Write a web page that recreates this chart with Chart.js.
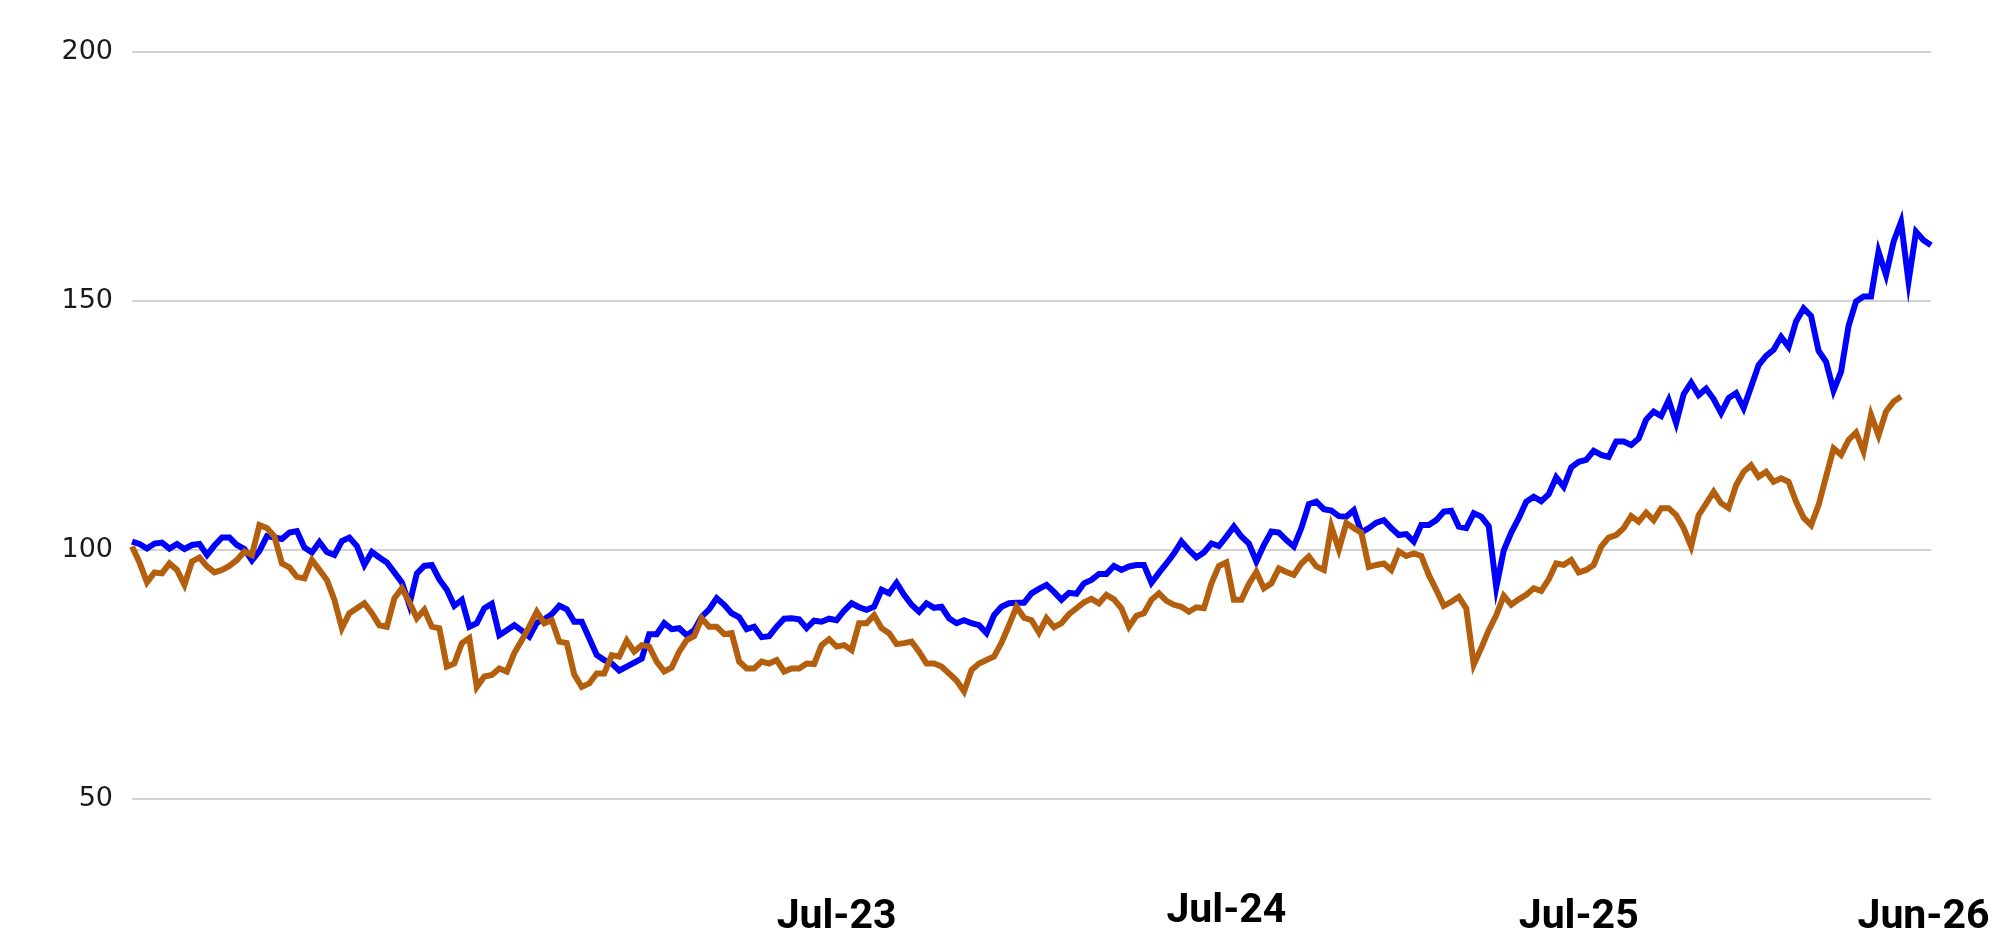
<!DOCTYPE html>
<html>
<head>
<meta charset="utf-8">
<title>Index performance</title>
<script src="https://cdn.jsdelivr.net/npm/chart.js@4.4.1/dist/chart.umd.min.js"></script>
<style>
  html, body { margin: 0; padding: 0; background: #fff; }
  #wrap { width: 2012px; height: 932px; position: relative; }
</style>
</head>
<body>
<div id="wrap"><canvas id="chart"></canvas></div>
<script>
// weekly-ish readings, rebased to 100
const seriesBlue = [
  101.7, 101.2, 100.3, 101.3, 101.5, 100.3, 101.2, 100.2, 101, 101.2,
  99, 100.9, 102.5, 102.5, 101, 100.2, 97.9, 99.8, 102.8, 102.5,
  102.2, 103.5, 103.8, 100.5, 99.5, 101.6, 99.6, 99, 101.8, 102.5,
  100.8, 97, 99.6, 98.5, 97.5, 95.5, 93.5, 89, 95.3, 96.8,
  97, 94.1, 92, 88.8, 90, 84.6, 85.3, 88.3, 89.2, 82.9,
  83.9, 84.9, 83.8, 82.6, 85.4, 86.1, 87.1, 88.8, 88.1, 85.6,
  85.6, 82.3, 78.9, 77.9, 77.2, 75.8, 76.6, 77.4, 78.2, 83.1,
  83.1, 85.3, 84.1, 84.3, 82.9, 83.9, 86.6, 88.1, 90.3, 89,
  87.3, 86.5, 84.1, 84.6, 82.5, 82.7, 84.6, 86.2, 86.3, 86.1,
  84.3, 85.8, 85.6, 86.2, 85.9, 87.8, 89.3, 88.5, 88, 88.6,
  92, 91.3, 93.4, 91, 89, 87.6, 89.3, 88.4, 88.6, 86.3,
  85.3, 85.9, 85.3, 84.9, 83.3, 86.9, 88.6, 89.3, 89.4, 89.4,
  91.3, 92.2, 93, 91.6, 90, 91.4, 91.2, 93.3, 94, 95.2,
  95.2, 96.8, 96, 96.7, 97, 97, 93.4, 95.4, 97.3, 99.3,
  101.7, 100, 98.5, 99.5, 101.3, 100.8, 102.7, 104.7, 102.7, 101.3,
  97.7, 101, 103.7, 103.5, 102, 100.7, 104.4, 109.2, 109.7, 108.2,
  107.9, 106.8, 106.7, 108, 103.5, 104.4, 105.5, 106, 104.4, 103,
  103.2, 101.7, 105, 105, 106, 107.7, 107.9, 104.7, 104.4, 107.4,
  106.7, 104.8, 92.5, 99.9, 103.5, 106.4, 109.7, 110.7, 109.8, 111.2,
  114.6, 112.7, 116.6, 117.7, 118.1, 119.9, 119.1, 118.7, 121.8, 121.8,
  121.1, 122.4, 126.2, 127.8, 126.9, 130.1, 125.5, 131.3, 133.6, 131.1,
  132.4, 130.3, 127.5, 130.5, 131.5, 128.5, 132.8, 137.1, 139, 140.2,
  142.8, 140.8, 145.9, 148.5, 147, 140, 137.8, 132, 135.8, 145,
  149.9, 150.9, 150.9, 159.9, 155.2, 161.9, 165.9, 153.9, 163.9, 162.2,
  161.2
];

const seriesOrange = [
  100.7, 97.5, 93.5, 95.5, 95.3, 97.3, 96, 93, 97.7, 98.5,
  96.7, 95.5, 96, 96.8, 98, 99.7, 99, 105, 104.4, 102.7,
  97.3, 96.5, 94.6, 94.3, 98, 96, 94, 90, 84.3, 87.3,
  88.3, 89.3, 87.3, 84.9, 84.6, 90.3, 92.3, 89.6, 86.3, 88,
  84.6, 84.3, 76.6, 77.2, 81.3, 82.3, 72.5, 74.6, 74.9, 76.2,
  75.6, 79.3, 81.9, 84.6, 87.6, 85.3, 85.9, 81.6, 81.3, 75,
  72.5, 73.2, 75.2, 75.2, 78.9, 78.6, 81.8, 79.6, 80.9, 80.6,
  77.6, 75.6, 76.4, 79.6, 81.9, 82.7, 86.3, 84.6, 84.6, 83.1,
  83.3, 77.6, 76.2, 76.2, 77.6, 77.2, 77.9, 75.6, 76.2, 76.2,
  77.2, 77.1, 80.9, 82.1, 80.6, 80.9, 79.9, 85.3, 85.3, 86.9,
  84.3, 83.3, 81.1, 81.3, 81.6, 79.6, 77.2, 77.2, 76.6, 75.2,
  73.8, 71.6, 75.9, 77.2, 77.9, 78.6, 81.4, 84.9, 88.6, 86.4,
  85.9, 83.4, 86.3, 84.5, 85.3, 87.1, 88.3, 89.5, 90.2, 89.3,
  91, 90.1, 88.3, 84.6, 86.8, 87.3, 90, 91.3, 89.8, 89,
  88.6, 87.6, 88.5, 88.3, 93.3, 96.8, 97.5, 90, 90, 93.2,
  95.6, 92.3, 93.3, 96.3, 95.6, 95, 97.3, 98.7, 96.7, 96,
  104.7, 100.1, 105.4, 104.4, 103.5, 96.6, 97, 97.3, 96, 99.7,
  98.8, 99.3, 98.8, 95, 92, 88.8, 89.6, 90.6, 88.3, 77,
  80.3, 83.9, 86.9, 90.8, 89, 90.1, 91, 92.3, 91.8, 94.1,
  97.3, 97, 98, 95.5, 96, 97, 100.7, 102.5, 103, 104.4,
  106.8, 105.7, 107.5, 106, 108.4, 108.4, 107, 104.4, 100.7, 107,
  109.3, 111.7, 109.4, 108.4, 113, 115.7, 117, 114.7, 115.7, 113.7,
  114.4, 113.7, 109.7, 106.5, 105, 109, 114.7, 120.4, 119.1, 122.1,
  123.6, 119.8, 127.1, 123, 127.8, 129.8, 130.8, null, null, null,
  null
];

const tickLabels = ['Jul-23', 'Jul-24', 'Jul-25', 'Jun-26'];
const tickAt = [94, 146, 193, 239]; // observation each date label sits under

const yTicks = [50, 100, 150, 200];

const categories = seriesBlue.map((v, i) => {
  const k = tickAt.indexOf(i);
  return k >= 0 ? tickLabels[k] : '';
});

new Chart(document.getElementById('chart'), {
  type: 'line',
  data: {
    labels: categories,
    datasets: [{
      data: seriesOrange,
      borderColor: '#b45f0d',
      borderWidth: 6,
      pointRadius: 0,
      tension: 0,
      order: 0
    }, {
      data: seriesBlue,
      borderColor: '#0000ff',
      borderWidth: 6,
      pointRadius: 0,
      tension: 0,
      order: 1
    }]
  },
  options: {
    responsive: true,
    maintainAspectRatio: false,
    animation: false,
    layout: {
      padding: { left: 62, right: 81, top: 52, bottom: 0 }
    },
    plugins: {
      legend: { display: false },
      tooltip: { enabled: false }
    },
    scales: {
      x: {
        // big tick padding would otherwise also eat into the sides
        afterFit: s => { s.height = 133; s.paddingLeft = 0; s.paddingRight = 0; },
        grid: { display: false, drawTicks: false },
        border: { display: false },
        ticks: {
          autoSkip: false,
          maxRotation: 0,
          minRotation: 0,
          padding: 94,
          color: '#000',
          // the Jul-24 label sits a little higher in the original
          font: ctx => ({
            family: "'Liberation Sans Narrow', 'Roboto', sans-serif",
            size: 41,
            weight: 'bold',
            lineHeight: categories[ctx.index] === 'Jul-24' ? 0.9 : 1.2
          }),
          callback: function (value) {
            return this.getLabelForValue(value);
          }
        }
      },
      y: {
        min: yTicks[0],
        max: yTicks[yTicks.length - 1],
        afterBuildTicks: s => { s.ticks = yTicks.map(v => ({ value: v })); },
        afterFit: s => { s.width = 70; },
        grid: { color: '#d2d2d2', lineWidth: 2, drawTicks: false },
        border: { display: false },
        ticks: {
          padding: 19,
          color: '#1a1a1a',
          font: { family: 'DejaVu Sans', size: 27 }
        }
      }
    }
  }
});
</script>
</body>
</html>
